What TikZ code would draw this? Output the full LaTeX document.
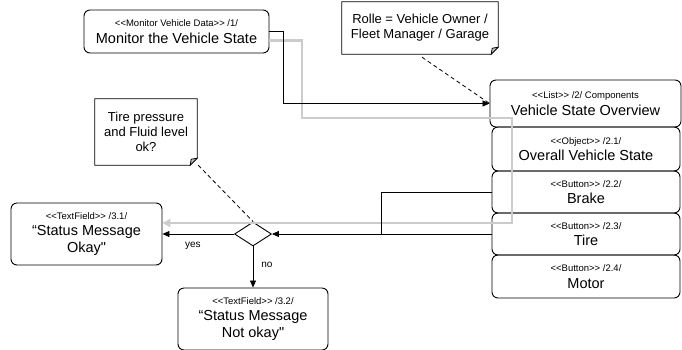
\documentclass[tikz,border=0pt]{standalone}
\usepackage{fontspec}
\setmainfont{Liberation Sans}[Ligatures=TeXOff]
\usetikzlibrary{shapes.geometric,arrows.meta,calc}
\newcommand{\stereo}[1]{{\fontsize{9.5}{11}\selectfont #1}}
\newcommand{\ltlt}{<\kern0pt<}
\newcommand{\gtgt}{>\kern0pt>}
\begin{document}
\begin{tikzpicture}[x=1pt,y=-1pt,
  box/.style={draw,rounded corners=6pt,line width=0.9pt,align=center,inner sep=0pt,
    font=\fontsize{14.5}{16.5}\selectfont},
  notebox/.style={inner sep=0pt,align=center,font=\fontsize{13}{15}\selectfont},
  noteline/.style={line width=0.8pt},
  arr/.style={-{Triangle[length=7pt,width=6pt]},line width=0.8pt},
  plain/.style={line width=0.8pt},
  grayline/.style={draw=gray!40,line width=2.5pt,-{Triangle[length=8pt,width=8pt,fill=gray!40]}},
  dashline/.style={line width=0.8pt,dash pattern=on 4pt off 3pt},
  lbl/.style={font=\fontsize{10}{12}\selectfont,inner sep=0pt}
]
\useasboundingbox (0,0) rectangle (682,349);
\clip (0,0) rectangle (682,349);

% nodes
\node[box,minimum width=185pt,minimum height=43pt] (m1) at (176.5,31.5)
  {\stereo{\ltlt Monitor Vehicle Data\gtgt{} /1/}\\Monitor the Vehicle State};
\node[box,minimum width=191pt,minimum height=47pt] (vso) at (585.5,103.5)
  {\stereo{\ltlt List\gtgt{} /2/ Components}\\Vehicle State Overview};
\node[box,minimum width=188pt,minimum height=44pt] (ovs) at (586,149)
  {\stereo{\ltlt Object\gtgt{} /2.1/}\\Overall Vehicle State};
\node[box,minimum width=188pt,minimum height=42pt] (brake) at (586,192)
  {\stereo{\ltlt Button\gtgt{} /2.2/}\\Brake};
\node[box,minimum width=188pt,minimum height=42pt] (tire) at (586,234)
  {\stereo{\ltlt Button\gtgt{} /2.3/}\\Tire};
\node[box,minimum width=188pt,minimum height=43pt] (motor) at (586,276.5)
  {\stereo{\ltlt Button\gtgt{} /2.4/}\\Motor};
\node[box,minimum width=151pt,minimum height=62pt] (s31) at (86.5,234)
  {\stereo{\ltlt TextField\gtgt{} /3.1/}\\“Status Message\\Okay\char"22};
\node[box,minimum width=150pt,minimum height=62pt] (s32) at (253,319)
  {\stereo{\ltlt TextField\gtgt{} /3.2/}\\“Status Message\\Not okay\char"22};
\node[draw,diamond,line width=0.9pt,minimum width=37pt,minimum height=24pt,inner sep=0pt] (dia) at (253,234) {};

% notes
\node[notebox,minimum width=156pt,minimum height=52pt] (n1) at (420,28)
  {Rolle = Vehicle Owner /\\Fleet Manager / Garage};
\node[notebox,minimum width=102pt,minimum height=66pt] (n2) at (146,132)
  {Tire pressure\\and Fluid level\\ok?};
\foreach \n in {n1,n2}{
  \draw[noteline] (\n.north west) -- (\n.north east) -- ($(\n.south east)+(0,-7)$)
    -- ($(\n.south east)+(-7,0)$) -- (\n.south west) -- cycle;
  \filldraw[noteline,fill=gray!50] ($(\n.south east)+(0,-7)$) -- ($(\n.south east)+(-7,0)$)
    -- ($(\n.south east)+(-6,-6)$) -- cycle;
}

% connectors
\draw[grayline] ($(m1.east)+(0,9)$) -- (302,40.5) -- (302,118) -- (512,118) -- (512,223)
  -- ($(s31.east)+(0,-11)$);
\draw[arr] (m1.east) -- ++(14,0) |- (vso.west);
\draw[dashline] ($(n1.south)+(2,3)$) -- (vso.west);
\draw[plain] (brake.west) -| (381,234);
\draw[arr] (tire.west) -- (dia.east);
\draw[arr] (dia.west) -- (s31.east) node[lbl,pos=0.575,below=8pt] {yes};
\draw[arr] (dia.south) -- (s32.north) node[lbl,pos=0.45,right=8pt] {no};
\draw[dashline] ($(n2.south east)+(1,0)$) -- (dia.north);
\end{tikzpicture}
\end{document}
